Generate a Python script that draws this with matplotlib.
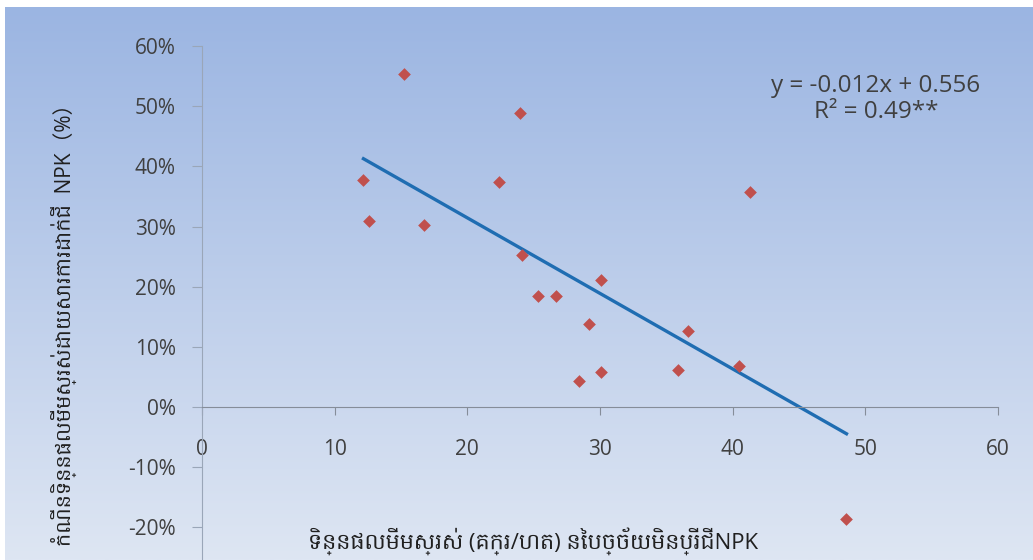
import matplotlib
matplotlib.use('Agg')
import matplotlib.pyplot as plt
from matplotlib import font_manager
from matplotlib.ft2font import FT2Font
from matplotlib.ticker import PercentFormatter
import numpy as np

# yield without NPK (t/ha) and yield gain from NPK (fraction)
yield_no_npk = [12.17, 12.58, 15.25, 16.73, 22.4, 24.0, 24.15, 25.33, 26.67,
                28.4, 29.2, 30.06, 30.06, 35.9, 36.65, 40.5, 41.3, 48.58]
yield_gain = [0.377, 0.309, 0.553, 0.303, 0.374, 0.489, 0.253, 0.184, 0.185,
              0.043, 0.138, 0.211, 0.058, 0.062, 0.126, 0.068, 0.357, -0.186]

x_ticks = [0, 10, 20, 30, 40, 50, 60]
y_ticks = [-0.2, -0.1, 0.0, 0.1, 0.2, 0.3, 0.4, 0.5, 0.6]

eq_text = 'y = -0.012x + 0.556\nR² = 0.49**'
x_label = 'ទិន្នផលមើមស្រស់ (គក្រ/ហត) នៃបច្ច័យមិនប្រើជីNPK'
y_label = 'កំណើនទិន្នផលមើមស្រស់ដោយសារការដាក់ជី  NPK（%）'


def find_khmer_font():
	found = []
	for f in font_manager.fontManager.ttflist:
		try:
			if 0x1780 in FT2Font(f.fname).get_charmap():
				found.append(f.name)
		except Exception:
			pass
	for pref in ['Khmer OS System', 'Khmer OS', 'Hanuman', 'Battambang', 'Content', 'Kantumruy']:
		if pref in found:
			return [pref]
	rest = [n for n in found if not n.startswith('Unifont')]
	return rest[:1] or found[:1]


khmer = find_khmer_font()
plt.rcParams['font.family'] = ['Open Sans'] + khmer + ['Noto Sans CJK SC', 'DejaVu Sans']
plt.rcParams['axes.unicode_minus'] = False

txt_color = '#404040'

fig = plt.figure(figsize=(10.33, 5.6), dpi=100)

# gradient background
bg = fig.add_axes([5 / 1033, 0, 1 - 5 / 1033, 1 - 7 / 560], zorder=0)
top = np.array([155, 181, 226]) / 255
bot = np.array([222, 230, 243]) / 255
t = np.linspace(0, 1, 256)[:, None]
grad = (top * (1 - t) + bot * t)[:, None, :]
bg.imshow(grad, aspect='auto', extent=[0, 1, 0, 1])
bg.axis('off')

ax = fig.add_axes([202 / 1033, 0, 796 / 1033, 1 - 46 / 560], zorder=1)
ax.patch.set_alpha(0)

ax.scatter(yield_no_npk, yield_gain, marker='D', s=42, color='#c0504d', zorder=3, linewidths=0)

k, b = np.polyfit(yield_no_npk, yield_gain, 1)
xs = np.array([min(yield_no_npk), max(yield_no_npk)])
ax.plot(xs, k * xs + b, color='#1f6db2', lw=2.4, zorder=2)

ax.set_xlim(0, 60)
ax.set_ylim(-0.254, 0.6)
ax.set_xticks(x_ticks)
ax.set_yticks(y_ticks)
ax.yaxis.set_major_formatter(PercentFormatter(1.0, decimals=0))

for s in ['top', 'right']:
	ax.spines[s].set_visible(False)
ax.spines['bottom'].set_position(('data', 0))
ax.spines['bottom'].set_color('#858d99')
ax.spines['left'].set_color('#9aa6b8')
ax.tick_params(axis='x', direction='out', length=6, color='#858d99', pad=17,
	labelsize=15, labelcolor=txt_color)
ax.tick_params(axis='y', direction='out', length=7, color='#9aa6b8', pad=12,
	labelsize=15, labelcolor=txt_color)

fig.text(876 / 1033, 1 - 99 / 560, eq_text, ha='center', va='center',
	fontsize=17.5, color=txt_color, linespacing=1.15)

fig.text(533 / 1033, 1 - 541 / 560, x_label, ha='center', va='center', fontsize=16, color='#202020')
fig.text(64 / 1033, 1 - 320 / 560, y_label, ha='center', va='center', rotation=90, fontsize=15, color='#202020')

fig.savefig('out.png', dpi=100)
